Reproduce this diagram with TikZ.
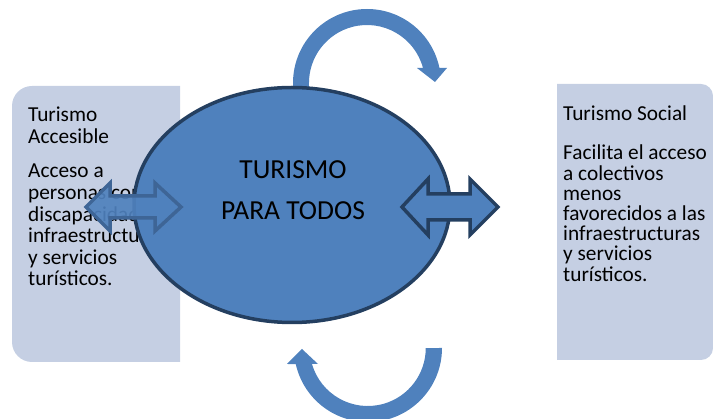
\documentclass[tikz,border=0pt]{standalone}
\usepackage{fontspec}
\setmainfont{Carlito}
\usetikzlibrary{shapes.geometric}

\definecolor{boxfill}{RGB}{197,207,227}
\definecolor{mainblue}{RGB}{79,129,189}
\definecolor{darkborder}{RGB}{36,63,96}
\definecolor{midborder}{RGB}{62,101,150}

\begin{document}
\begin{tikzpicture}[
    x=1pt, y=-1pt,
    side box/.style={fill=boxfill},
    box title/.style={anchor=north west,inner sep=0pt,align=left,font=\fontsize{21.3}{22}\selectfont},
    box text/.style={anchor=north west,inner sep=0pt,align=left},
    main ellipse/.style={ellipse,fill=mainblue,draw=darkborder,line width=3.5pt,minimum width=316pt,minimum height=235pt,inner sep=0pt},
    title text/.style={align=center,inner sep=0pt,font=\fontsize{27.5}{41}\selectfont},
    curved arrow/.style={fill=mainblue},
    link arrow/.style={fill=mainblue,line width=3.5pt,line join=miter}
]
\useasboundingbox (0,0) rectangle (713,419);

% Cajas laterales
\fill[side box] (180,86) -- (32,86) arc[start angle=270,end angle=180,radius=20]
    -- (12,342) arc[start angle=180,end angle=90,radius=20] -- (180,362) -- cycle;
\fill[side box] (557,84) -- (701,84) arc[start angle=270,end angle=360,radius=12]
    -- (713,348) arc[start angle=0,end angle=90,radius=12] -- (557,360) -- cycle;

% Textos de las cajas
\node[box title] (ltitulo) at (28,107) {Turismo\\Accesible};
\node[box text,font=\fontsize{21.3}{21.6}\selectfont] (ltexto) at (28,164)
    {Acceso a\\personas con\\discapacidad a\\infraestructuras\\y servicios\\turísticos.};
\node[box title] (rtitulo) at (563,106) {Turismo Social};
\node[box text,font=\fontsize{21.3}{20.2}\selectfont] (rtexto) at (563,145)
    {Facilita el acceso\\a colectivos\\menos\\favorecidos a las\\infraestructuras\\y servicios\\turísticos.};

% Flechas curvas (arriba y abajo)
\fill[curved arrow] (293,92) -- (293,83) arc[start angle=180,end angle=348.3,radius=74]
    -- (447,68) -- (435,82) -- (417,68) -- (423,68)
    arc[start angle=345,end angle=180,radius=58] -- (309,92) -- cycle;
\fill[curved arrow] (442,348) arc[start angle=0,end angle=167.5,radius=74]
    -- (287,364) -- (302,349) -- (318,364) -- (312,364)
    arc[start angle=164,end angle=0,radius=58] -- cycle;

% Elipse central
\node[main ellipse] (todos) at (292,205) {};
\node[title text] (titulo) at (293,190) {TURISMO\\PARA TODOS};

% Flechas dobles
\filldraw[link arrow,draw=midborder,fill opacity=0.92] (86,207) -- (110,183) -- (110,196)
    -- (155,196) -- (155,183) -- (181,207) -- (155,231) -- (155,218)
    -- (110,218) -- (110,231) -- cycle;
\filldraw[link arrow,draw=darkborder] (402,207) -- (428,179) -- (428,194)
    -- (470,194) -- (470,179) -- (498,207) -- (470,235) -- (470,220)
    -- (428,220) -- (428,235) -- cycle;

\end{tikzpicture}
\end{document}
